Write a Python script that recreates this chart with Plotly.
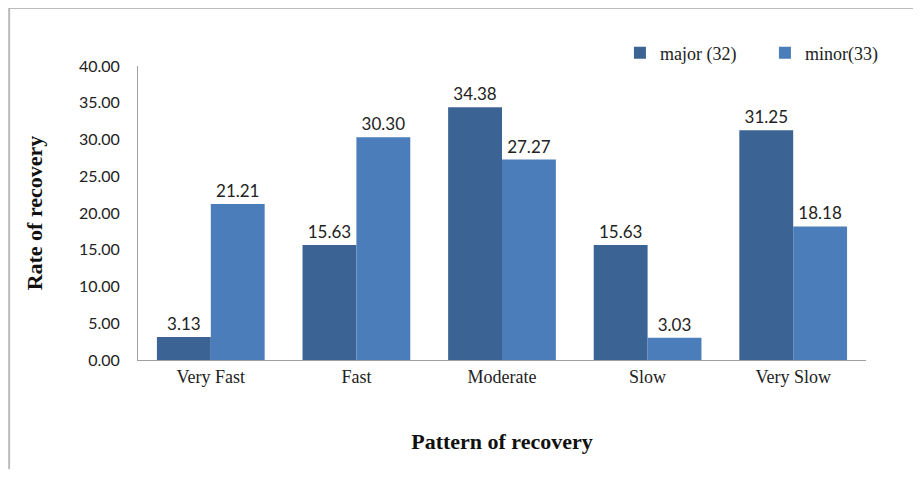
import plotly.graph_objects as go

# données
categories = ["Very Fast", "Fast", "Moderate", "Slow", "Very Slow"]
major = [3.13, 15.63, 34.38, 15.63, 31.25]
minor = [21.21, 30.30, 27.27, 3.03, 18.18]
y_ticks = [0, 5, 10, 15, 20, 25, 30, 35, 40]
y_tick_labels = [f"{v:.2f}" for v in y_ticks]

SANS = "Lato, 'Open Sans', sans-serif"
SERIF = "'Liberation Serif', 'DejaVu Serif', serif"

fig = go.Figure()

fig.add_trace(go.Bar(
    x=categories, y=major, name="major (32)",
    marker=dict(color="#3B6494", line=dict(width=0)),
    texttemplate="%{y:.2f}", textposition="outside",
    textfont=dict(family=SANS, size=17, color="#222222"),
    cliponaxis=False,
))
fig.add_trace(go.Bar(
    x=categories, y=minor, name="minor(33)",
    marker=dict(color="#4A7DBA", line=dict(width=0)),
    texttemplate="%{y:.2f}", textposition="outside",
    textfont=dict(family=SANS, size=17, color="#222222"),
    cliponaxis=False,
))

# cadre autour du graphique (haut et gauche ; le reste est coupé)
cadre = dict(color="#BBBBBB", width=2)
fig.add_shape(type="line", xref="paper", yref="paper",
              x0=-0.177, x1=1.2, y0=1.197, y1=1.197, line=cadre, layer="below")
fig.add_shape(type="line", xref="paper", yref="paper",
              x0=-0.177, x1=-0.177, y0=-0.5, y1=1.197, line=cadre, layer="below")

# la page a une marge de 8 px : on compense pour tout faire tenir sans défilement
fig.update_layout(
    width=905, height=461,
    barmode="group", bargap=0.26, bargroupgap=0,
    plot_bgcolor="white", paper_bgcolor="white",
    margin=dict(l=130, r=47, t=58, b=109, autoexpand=False),
    showlegend=True,
    legend=dict(
        orientation="h", x=0.662, y=1.044, xanchor="left", yanchor="middle",
        font=dict(family=SERIF, size=18, color="#222222"),
        itemwidth=30, traceorder="normal",
        entrywidth=100, entrywidthmode="pixels",
    ),
    xaxis=dict(
        showline=True, linecolor="#A0A0A0", linewidth=1,
        ticks="", showgrid=False,
        tickfont=dict(family=SERIF, size=18, color="#222222"),
        title=dict(text="<b>Pattern of recovery</b>", standoff=48,
                   font=dict(family=SERIF, size=22, color="#111111")),
    ),
    yaxis=dict(
        range=[0, 40], tickvals=y_ticks, ticktext=y_tick_labels,
        showline=True, linecolor="#A0A0A0", linewidth=1,
        ticks="", showgrid=False, zeroline=False,
        ticklabelstandoff=14,
        tickfont=dict(family=SANS, size=16, color="#222222"),
        title=dict(text="<b>Rate of recovery</b>", standoff=30,
                   font=dict(family=SERIF, size=22, color="#111111")),
    ),
)

fig.write_html("out.html")
